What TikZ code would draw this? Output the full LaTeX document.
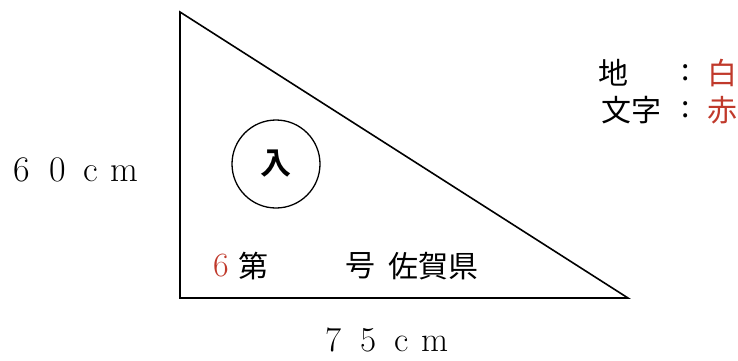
\documentclass[tikz,border=0pt]{standalone}
\usepackage{fontspec}
\newfontfamily\cjk{Noto Sans CJK JP}[BoldFont={Noto Sans CJK JP Bold}]
\definecolor{signred}{RGB}{192,57,43}
\newcommand{\dimtext}[4]{#1\hspace{19pt}#2\hspace{18pt}#3\hspace{12pt}#4}
\begin{document}
\begin{tikzpicture}[x=1pt,y=-1pt,
  jp/.style={inner sep=0pt,font=\cjk\fontsize{30}{34}\selectfont},
  lat/.style={inner sep=0pt,font=\fontsize{36}{40}\selectfont},
  line/.style={line width=1.6pt}]
\useasboundingbox (0,0) rectangle (738,360);
\coordinate (A) at (180,12);
\coordinate (B) at (180,298);
\coordinate (C) at (628,298);
\draw[line] (A) -- (B) -- (C) -- cycle;
\node[draw,line width=1.3pt,circle,minimum size=88pt,inner sep=0pt] (ring) at (276,164) {};
\node[jp,font=\cjk\bfseries\fontsize{31}{34}\selectfont] (iri) at (ring.center) {入};
\node[lat,text=signred,font=\fontsize{34}{38}\selectfont] (six) at (221,266) {6};
\node[jp] (dai) at (253,266) {第};
\node[jp] (go) at (360,266) {号};
\node[jp] (pref) at (433,266) {佐賀県};
\node[lat] (h) at (76,170) {\dimtext{6}{0}{c}{m}};
\node[lat,font=\fontsize{35}{38}\selectfont] (w) at (387,340) {\dimtext{7}{5}{c}{m}};
\node[jp] (ji) at (613,73) {地};
\node[jp] (c1) at (686,73) {:};
\node[jp,text=signred] (shiro) at (722,73) {白};
\node[jp] (moji) at (631,110) {文字};
\node[jp] (c2) at (686,110) {:};
\node[jp,text=signred] (aka) at (722,110) {赤};
\end{tikzpicture}
\end{document}
